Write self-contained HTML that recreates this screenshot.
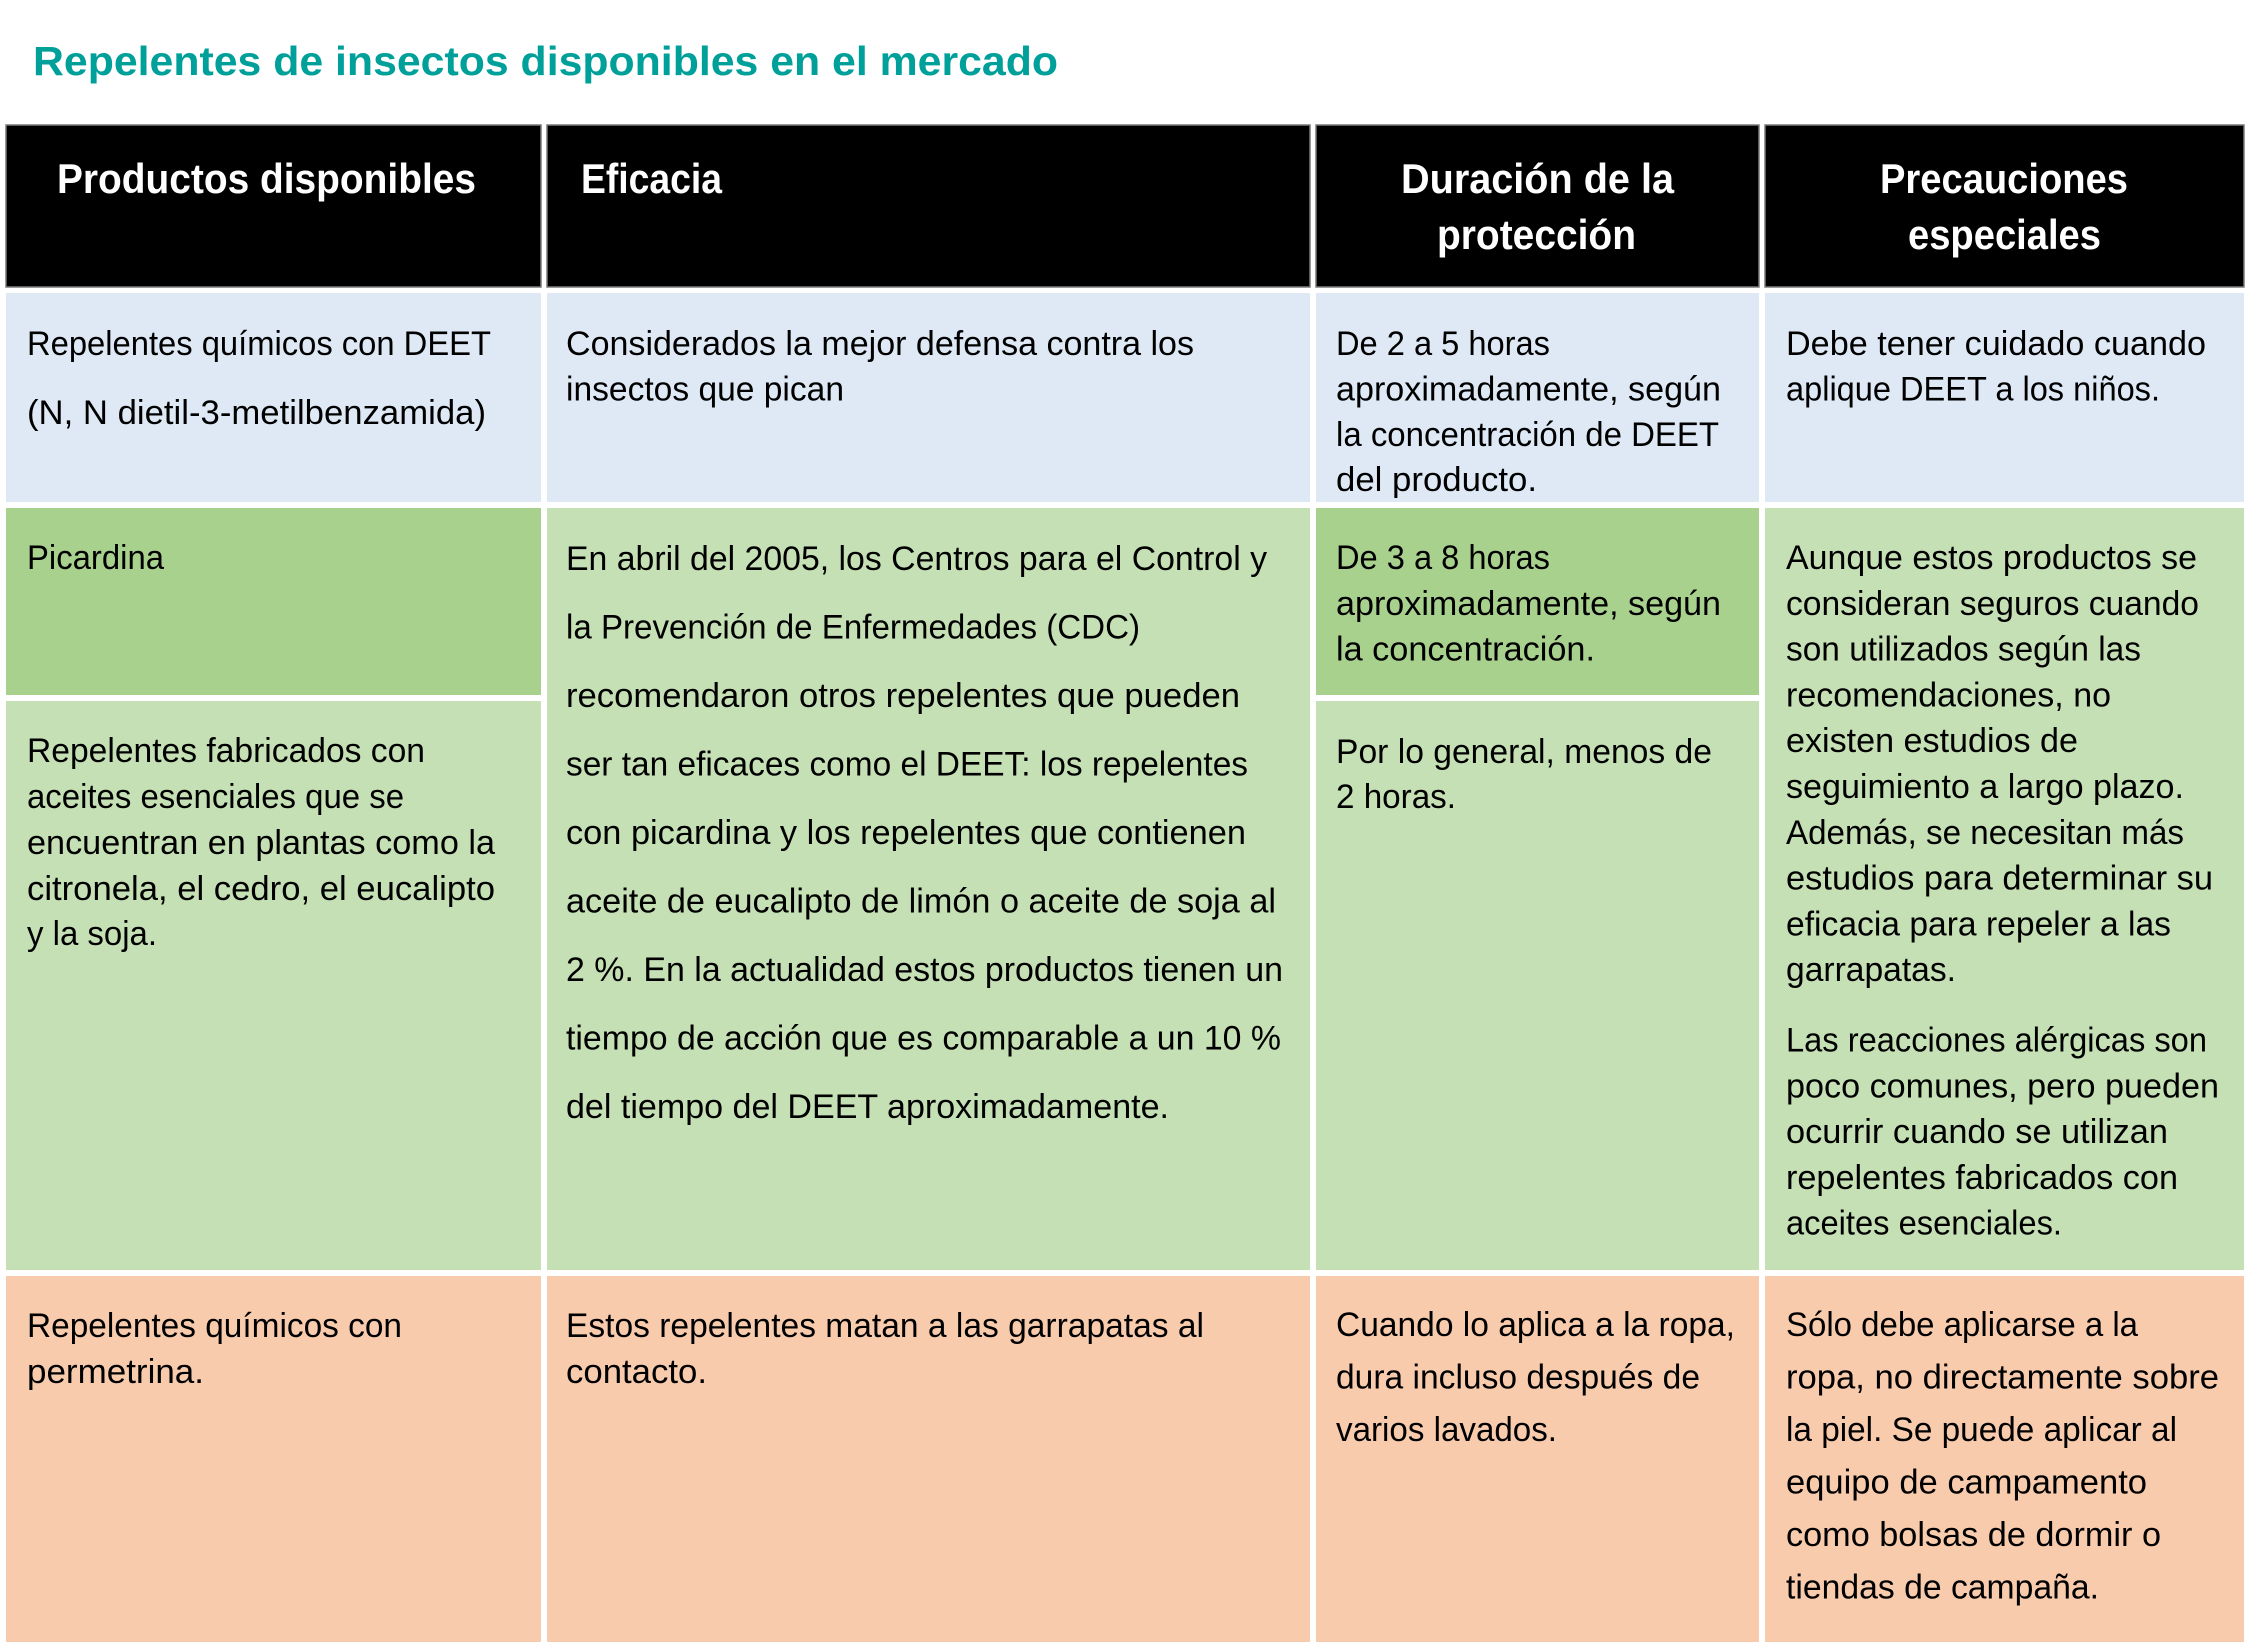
<!DOCTYPE html>
<html>
<head>
<meta charset="utf-8">
<style>
html,body{margin:0;padding:0;background:#fff;}
svg{display:block;}
.t{font-family:"Liberation Sans",Arial,sans-serif;font-size:34px;fill:#000;}
.h{font-family:"Liberation Sans",Arial,sans-serif;font-size:42px;font-weight:bold;fill:#fff;}
.ti{font-family:"Liberation Sans",Arial,sans-serif;font-size:40.5px;font-weight:bold;fill:#00A09A;}
</style>
</head>
<body>
<svg width="2250" height="1649" viewBox="0 0 2250 1649" xmlns="http://www.w3.org/2000/svg">
<rect x="0" y="0" width="2250" height="1649" fill="#ffffff"/>

<!-- Title -->
<text class="ti" x="33" y="75" textLength="1025" lengthAdjust="spacingAndGlyphs">Repelentes de insectos disponibles en el mercado</text>

<!-- Header -->
<g fill="#000" stroke="#7a7a7a" stroke-width="1.5">
<rect x="6" y="125" width="535" height="162"/>
<rect x="547" y="125" width="763" height="162"/>
<rect x="1316" y="125" width="443" height="162"/>
<rect x="1765" y="125" width="479" height="162"/>
</g>
<text class="h" x="57" y="193" textLength="419" lengthAdjust="spacingAndGlyphs">Productos disponibles</text>
<text class="h" x="581" y="193" textLength="141" lengthAdjust="spacingAndGlyphs">Eficacia</text>
<text class="h" x="1401" y="193" textLength="273" lengthAdjust="spacingAndGlyphs">Duración de la</text>
<text class="h" x="1437" y="249" textLength="199" lengthAdjust="spacingAndGlyphs">protección</text>
<text class="h" x="1880" y="193" textLength="248" lengthAdjust="spacingAndGlyphs">Precauciones</text>
<text class="h" x="1908" y="249" textLength="193" lengthAdjust="spacingAndGlyphs">especiales</text>

<!-- Row 1 (blue) -->
<g fill="#DEE9F5">
<rect x="6" y="293" width="535" height="209"/>
<rect x="547" y="293" width="763" height="209"/>
<rect x="1316" y="293" width="443" height="209"/>
<rect x="1765" y="293" width="479" height="209"/>
</g>

<!-- Row 2 (green) -->
<rect x="6" y="508" width="535" height="187" fill="#A9D18E"/>
<rect x="6" y="701" width="535" height="569" fill="#C5E0B4"/>
<rect x="547" y="508" width="763" height="762" fill="#C5E0B4"/>
<rect x="1316" y="508" width="443" height="187" fill="#A9D18E"/>
<rect x="1316" y="701" width="443" height="569" fill="#C5E0B4"/>
<rect x="1765" y="508" width="479" height="762" fill="#C5E0B4"/>

<!-- Row 3 (orange) -->
<g fill="#F8CBAD">
<rect x="6" y="1276" width="535" height="366"/>
<rect x="547" y="1276" width="763" height="366"/>
<rect x="1316" y="1276" width="443" height="366"/>
<rect x="1765" y="1276" width="479" height="366"/>
</g>

<!-- Column 1 -->
<text class="t" x="27" y="355" textLength="464" lengthAdjust="spacingAndGlyphs">Repelentes químicos con DEET</text>
<text class="t" x="27" y="424" textLength="459" lengthAdjust="spacingAndGlyphs">(N, N dietil-3-metilbenzamida)</text>
<text class="t" x="27" y="569" textLength="137" lengthAdjust="spacingAndGlyphs">Picardina</text>
<text class="t" x="27" y="762" textLength="398" lengthAdjust="spacingAndGlyphs">Repelentes fabricados con</text>
<text class="t" x="27" y="808" textLength="377" lengthAdjust="spacingAndGlyphs">aceites esenciales que se</text>
<text class="t" x="27" y="854" textLength="468" lengthAdjust="spacingAndGlyphs">encuentran en plantas como la</text>
<text class="t" x="27" y="900" textLength="468" lengthAdjust="spacingAndGlyphs">citronela, el cedro, el eucalipto</text>
<text class="t" x="27" y="945" textLength="130" lengthAdjust="spacingAndGlyphs">y la soja.</text>
<text class="t" x="27" y="1337" textLength="375" lengthAdjust="spacingAndGlyphs">Repelentes químicos con</text>
<text class="t" x="27" y="1383" textLength="177" lengthAdjust="spacingAndGlyphs">permetrina.</text>

<!-- Column 2 -->
<text class="t" x="566" y="355" textLength="628" lengthAdjust="spacingAndGlyphs">Considerados la mejor defensa contra los</text>
<text class="t" x="566" y="400.5" textLength="278" lengthAdjust="spacingAndGlyphs">insectos que pican</text>
<text class="t" x="566" y="570" textLength="701" lengthAdjust="spacingAndGlyphs">En abril del 2005, los Centros para el Control y</text>
<text class="t" x="566" y="638.5" textLength="574" lengthAdjust="spacingAndGlyphs">la Prevención de Enfermedades (CDC)</text>
<text class="t" x="566" y="707" textLength="674" lengthAdjust="spacingAndGlyphs">recomendaron otros repelentes que pueden</text>
<text class="t" x="566" y="775.5" textLength="682" lengthAdjust="spacingAndGlyphs">ser tan eficaces como el DEET: los repelentes</text>
<text class="t" x="566" y="844" textLength="680" lengthAdjust="spacingAndGlyphs">con picardina y los repelentes que contienen</text>
<text class="t" x="566" y="912.5" textLength="710" lengthAdjust="spacingAndGlyphs">aceite de eucalipto de limón o aceite de soja al</text>
<text class="t" x="566" y="981" textLength="717" lengthAdjust="spacingAndGlyphs">2 %. En la actualidad estos productos tienen un</text>
<text class="t" x="566" y="1049.5" textLength="715" lengthAdjust="spacingAndGlyphs">tiempo de acción que es comparable a un 10 %</text>
<text class="t" x="566" y="1118" textLength="603" lengthAdjust="spacingAndGlyphs">del tiempo del DEET aproximadamente.</text>
<text class="t" x="566" y="1337" textLength="638" lengthAdjust="spacingAndGlyphs">Estos repelentes matan a las garrapatas al</text>
<text class="t" x="566" y="1383" textLength="141" lengthAdjust="spacingAndGlyphs">contacto.</text>

<!-- Column 3 -->
<text class="t" x="1336" y="355" textLength="214" lengthAdjust="spacingAndGlyphs">De 2 a 5 horas</text>
<text class="t" x="1336" y="400.5" textLength="385" lengthAdjust="spacingAndGlyphs">aproximadamente, según</text>
<text class="t" x="1336" y="446" textLength="383" lengthAdjust="spacingAndGlyphs">la concentración de DEET</text>
<text class="t" x="1336" y="491" textLength="201" lengthAdjust="spacingAndGlyphs">del producto.</text>
<text class="t" x="1336" y="569" textLength="214" lengthAdjust="spacingAndGlyphs">De 3 a 8 horas</text>
<text class="t" x="1336" y="615" textLength="385" lengthAdjust="spacingAndGlyphs">aproximadamente, según</text>
<text class="t" x="1336" y="660.7" textLength="259" lengthAdjust="spacingAndGlyphs">la concentración.</text>
<text class="t" x="1336" y="763" textLength="376" lengthAdjust="spacingAndGlyphs">Por lo general, menos de</text>
<text class="t" x="1336" y="808" textLength="120" lengthAdjust="spacingAndGlyphs">2 horas.</text>
<text class="t" x="1336" y="1336" textLength="399" lengthAdjust="spacingAndGlyphs">Cuando lo aplica a la ropa,</text>
<text class="t" x="1336" y="1388.3" textLength="364" lengthAdjust="spacingAndGlyphs">dura incluso después de</text>
<text class="t" x="1336" y="1441" textLength="221" lengthAdjust="spacingAndGlyphs">varios lavados.</text>

<!-- Column 4 -->
<text class="t" x="1786" y="355" textLength="420" lengthAdjust="spacingAndGlyphs">Debe tener cuidado cuando</text>
<text class="t" x="1786" y="400.5" textLength="374" lengthAdjust="spacingAndGlyphs">aplique DEET a los niños.</text>
<text class="t" x="1786" y="569" textLength="411" lengthAdjust="spacingAndGlyphs">Aunque estos productos se</text>
<text class="t" x="1786" y="615" textLength="413" lengthAdjust="spacingAndGlyphs">consideran seguros cuando</text>
<text class="t" x="1786" y="660.7" textLength="355" lengthAdjust="spacingAndGlyphs">son utilizados según las</text>
<text class="t" x="1786" y="706.5" textLength="325" lengthAdjust="spacingAndGlyphs">recomendaciones, no</text>
<text class="t" x="1786" y="752" textLength="292" lengthAdjust="spacingAndGlyphs">existen estudios de</text>
<text class="t" x="1786" y="798" textLength="398" lengthAdjust="spacingAndGlyphs">seguimiento a largo plazo.</text>
<text class="t" x="1786" y="844" textLength="398" lengthAdjust="spacingAndGlyphs">Además, se necesitan más</text>
<text class="t" x="1786" y="889.5" textLength="427" lengthAdjust="spacingAndGlyphs">estudios para determinar su</text>
<text class="t" x="1786" y="935.3" textLength="385" lengthAdjust="spacingAndGlyphs">eficacia para repeler a las</text>
<text class="t" x="1786" y="981" textLength="170" lengthAdjust="spacingAndGlyphs">garrapatas.</text>
<text class="t" x="1786" y="1051.7" textLength="421" lengthAdjust="spacingAndGlyphs">Las reacciones alérgicas son</text>
<text class="t" x="1786" y="1097.6" textLength="433" lengthAdjust="spacingAndGlyphs">poco comunes, pero pueden</text>
<text class="t" x="1786" y="1143" textLength="382" lengthAdjust="spacingAndGlyphs">ocurrir cuando se utilizan</text>
<text class="t" x="1786" y="1188.8" textLength="392" lengthAdjust="spacingAndGlyphs">repelentes fabricados con</text>
<text class="t" x="1786" y="1234.7" textLength="276" lengthAdjust="spacingAndGlyphs">aceites esenciales.</text>
<text class="t" x="1786" y="1336" textLength="352" lengthAdjust="spacingAndGlyphs">Sólo debe aplicarse a la</text>
<text class="t" x="1786" y="1388.3" textLength="433" lengthAdjust="spacingAndGlyphs">ropa, no directamente sobre</text>
<text class="t" x="1786" y="1441" textLength="391" lengthAdjust="spacingAndGlyphs">la piel. Se puede aplicar al</text>
<text class="t" x="1786" y="1493.3" textLength="361" lengthAdjust="spacingAndGlyphs">equipo de campamento</text>
<text class="t" x="1786" y="1546" textLength="375" lengthAdjust="spacingAndGlyphs">como bolsas de dormir o</text>
<text class="t" x="1786" y="1598.3" textLength="313" lengthAdjust="spacingAndGlyphs">tiendas de campaña.</text>
</svg>
</body>
</html>
